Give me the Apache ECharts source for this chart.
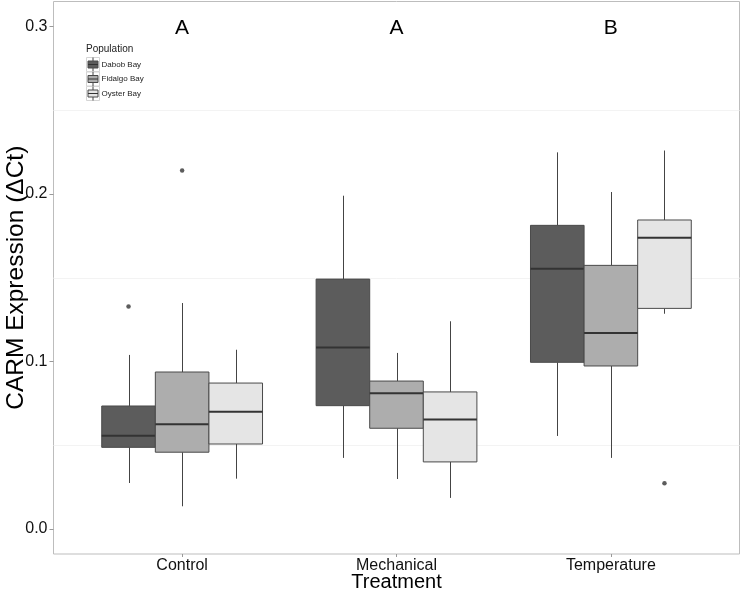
<!DOCTYPE html>
<html>
<head>
<meta charset="utf-8">
<script src="https://cdn.jsdelivr.net/npm/echarts@6/dist/echarts.min.js"></script>
<style>
html,body{margin:0;padding:0;background:#fff;}
#chart{width:742px;height:592px;}
</style>
</head>
<body>
<div id="chart"></div>
<script>
// ---- data ----
const categories = ['Control', 'Mechanical', 'Temperature'];
const populations = ['Dabob Bay', 'Fidalgo Bay', 'Oyster Bay'];
// box stats per category: [lower whisker, Q1, median, Q3, upper whisker]
const dabobStats = [
  [0.0274, 0.0487, 0.0557, 0.0734, 0.1039],
  [0.0424, 0.0736, 0.1084, 0.1492, 0.1990],
  [0.0555, 0.0995, 0.1554, 0.1813, 0.2249]
];
const fidalgoStats = [
  [0.0135, 0.0458, 0.0625, 0.0937, 0.1349],
  [0.0298, 0.0601, 0.0810, 0.0883, 0.1051],
  [0.0424, 0.0973, 0.1170, 0.1574, 0.2012]
];
const oysterStats = [
  [0.0300, 0.0507, 0.0700, 0.0871, 0.1070],
  [0.0185, 0.0400, 0.0653, 0.0818, 0.1240],
  [0.1285, 0.1317, 0.1739, 0.1845, 0.2260]
];
// outliers: [category index, value]
const dabobOutliers = [[0, 0.1329]];
const fidalgoOutliers = [[0, 0.2141]];
const oysterOutliers = [[2, 0.0272]];
const groupLetters = ['A', 'A', 'B'];
const letterLevel = 0.3;
const yTicks = [0, 0.1, 0.2, 0.3];
const gridMinor = [0.05, 0.15, 0.25];

// ---- styles ----
const fills = ['#5c5c5c', '#adadad', '#e5e5e5'];
const FONT = 'Liberation Sans, Arial, Helvetica, sans-serif';
const dodge = 0.25;
const allStats = [dabobStats, fidalgoStats, oysterStats];
const allOutliers = [dabobOutliers, fidalgoOutliers, oysterOutliers];

function boxRenderer(p) {
  return function (params, api) {
    const ci = api.value(0);
    const xc = ci + 1 + (p - 1) * dodge;
    const left = api.coord([xc - dodge / 2, 0])[0];
    const right = api.coord([xc + dodge / 2, 0])[0];
    const cx = Math.round(api.coord([xc, 0])[0]) + 0.5;
    const y = v => api.coord([xc, v])[1];
    const lo = y(api.value(1)), q1 = y(api.value(2)), med = y(api.value(3)),
          q3 = y(api.value(4)), hi = y(api.value(5));
    const lineStyle = {stroke: '#444', lineWidth: 1};
    return {
      type: 'group',
      children: [
        {type: 'line', shape: {x1: cx, y1: q3, x2: cx, y2: hi}, style: lineStyle},
        {type: 'line', shape: {x1: cx, y1: q1, x2: cx, y2: lo}, style: lineStyle},
        {type: 'rect', shape: {x: left, y: q3, width: right - left, height: q1 - q3},
          style: {fill: fills[p], stroke: '#4a4a4a', lineWidth: 1}},
        {type: 'line', shape: {x1: left, y1: med, x2: right, y2: med},
          style: {stroke: '#333', lineWidth: 2}}
      ]
    };
  };
}

const series = [];
// faint grid lines (under the boxes)
series.push({
  type: 'custom', z: 1, silent: true,
  data: gridMinor.map(v => [0.4, v]),
  encode: {x: 0, y: 1},
  renderItem: function (params, api) {
    const cs = params.coordSys;
    const yy = Math.round(api.coord([0.4, api.value(1)])[1]) + 0.5;
    return {type: 'line', shape: {x1: cs.x, y1: yy, x2: cs.x + cs.width, y2: yy},
      style: {stroke: '#f3f3f3', lineWidth: 1}};
  }
});
populations.forEach((name, p) => {
  series.push({
    name: name, type: 'custom', z: 2,
    renderItem: boxRenderer(p),
    encode: {x: 0, y: [1, 2, 3, 4, 5]},
    data: allStats[p].map((s, ci) => [ci].concat(s))
  });
  series.push({
    name: name, type: 'scatter', z: 3, symbolSize: 4.5,
    itemStyle: {color: '#333'},
    data: allOutliers[p].map(o => [o[0] + 1 + (p - 1) * dodge, o[1]])
  });
});
series.push({
  type: 'custom', z: 4,
  data: groupLetters.map((l, i) => [i + 1, letterLevel]),
  renderItem: function (params, api) {
    const pt = api.coord([api.value(0), api.value(1)]);
    return {type: 'text', x: pt[0], y: pt[1] + 2,
      style: {text: groupLetters[params.dataIndex], fill: '#000', font: '21px ' + FONT,
        align: 'center', verticalAlign: 'middle'}};
  }
});

// legend (drawn)
const legendEls = [{type: 'text', left: 86, top: 44,
  style: {text: 'Population', fill: '#222', font: '10px ' + FONT}}];
populations.forEach((name, i) => {
  const cy = 64.5 + i * 14.5;
  legendEls.push({type: 'rect', shape: {x: 86.5, y: cy - 7, width: 13, height: 14},
    style: {fill: '#fff', stroke: '#d5d5d5', lineWidth: 1}});
  legendEls.push({type: 'line', shape: {x1: 93, y1: cy - 7, x2: 93, y2: cy + 7},
    style: {stroke: '#444', lineWidth: 1}});
  legendEls.push({type: 'rect', shape: {x: 88, y: cy - 3.5, width: 10, height: 7},
    style: {fill: fills[i], stroke: '#4a4a4a', lineWidth: 1}});
  legendEls.push({type: 'line', shape: {x1: 88, y1: cy, x2: 98, y2: cy},
    style: {stroke: '#333', lineWidth: 1}});
  legendEls.push({type: 'text', x: 101.5, y: cy,
    style: {text: name, fill: '#222', font: '8px ' + FONT, verticalAlign: 'middle'}});
});

const chart = echarts.init(document.getElementById('chart'), null, {renderer: 'canvas'});
chart.setOption({
  animation: false,
  backgroundColor: '#fff',
  textStyle: {fontFamily: FONT},
  grid: {left: 53.5, right: 2.5, top: 1.5, bottom: 38, show: true,
    containLabel: false, outerBoundsMode: 'none',
    borderColor: '#bdbdbd', borderWidth: 1, backgroundColor: '#fff'},
  xAxis: {
    type: 'value', min: 0.4, max: 3.6,
    axisLine: {show: false, onZero: false},
    splitLine: {show: false},
    axisTick: {show: true, customValues: [1, 2, 3], length: 3, lineStyle: {color: '#999'}},
    axisLabel: {customValues: [1, 2, 3], formatter: v => categories[Math.round(v) - 1],
      fontSize: 16, color: '#111', margin: 4, fontFamily: FONT},
    name: 'Treatment', nameLocation: 'middle', nameGap: 18, nameMoveOverlap: false,
    nameTextStyle: {fontSize: 20, color: '#000', fontFamily: FONT, verticalAlign: 'top'}
  },
  yAxis: {
    type: 'value', min: -0.015, max: 0.315,
    axisLine: {show: false, onZero: false},
    splitLine: {show: false},
    axisTick: {show: true, customValues: yTicks, length: 4, lineStyle: {color: '#999'}},
    axisLabel: {customValues: yTicks, formatter: v => v.toFixed(1),
      fontSize: 16, color: '#111', margin: 6, fontFamily: FONT},
    name: 'CARM Expression (\u0394Ct)', nameLocation: 'middle', nameGap: 25, nameMoveOverlap: false,
    nameTextStyle: {fontSize: 24.5, color: '#000', fontFamily: FONT, verticalAlign: 'bottom'}
  },
  graphic: legendEls,
  series: series
});
</script>
</body>
</html>
